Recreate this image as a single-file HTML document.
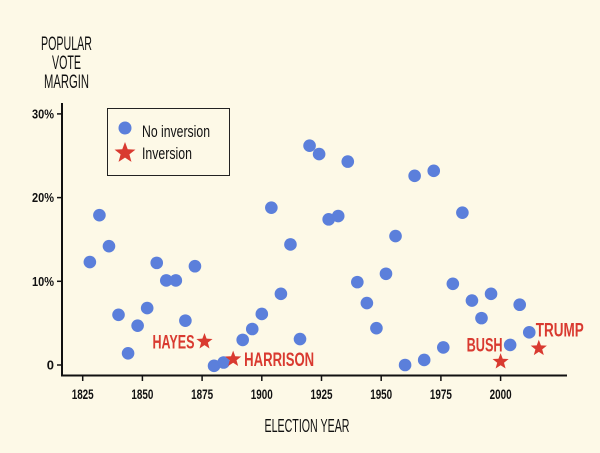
<!DOCTYPE html>
<html><head><meta charset="utf-8"><style>
html,body{margin:0;padding:0;background:#fdf9e7;}
svg{display:block;}
text{font-family:"Liberation Sans Narrow","Liberation Sans",sans-serif;}
</style></head><body>
<svg id="chart" width="600" height="453" viewBox="0 0 600 453">
<rect width="600" height="453" fill="#fdf9e7"/>
<g font-size="19" fill="#111" text-anchor="middle">
<text x="66.5" y="50" textLength="51" lengthAdjust="spacingAndGlyphs">POPULAR</text>
<text x="66.5" y="69" textLength="29" lengthAdjust="spacingAndGlyphs">VOTE</text>
<text x="66.5" y="88" textLength="45" lengthAdjust="spacingAndGlyphs">MARGIN</text>
</g>
<g id="axes"></g>
<g id="marks"></g>
<g>
<rect x="107.5" y="108.5" width="122" height="67" fill="none" stroke="#222" stroke-width="1"/>
<circle cx="125" cy="128" r="6.5" fill="#5b7fdb"/>
<text x="142" y="137" font-size="17" fill="#111" textLength="68" lengthAdjust="spacingAndGlyphs">No inversion</text>
<path id="legstar" fill="#d93a30"/>
<text x="142" y="159" font-size="17" fill="#111" textLength="50" lengthAdjust="spacingAndGlyphs">Inversion</text>
</g>
<text x="307" y="432" font-size="18" fill="#111" text-anchor="middle" textLength="85" lengthAdjust="spacingAndGlyphs">ELECTION YEAR</text>
</svg>
<script>
const years = [1828,1832,1836,1840,1844,1848,1852,1856,1860,1864,1868,1872,1880,1884,1892,1896,1900,1904,1908,1912,1916,1920,1924,1928,1932,1936,1940,1944,1948,1952,1956,1960,1964,1968,1972,1976,1980,1984,1988,1992,1996,2004,2008,2012];
const margins = [12.3,17.9,14.2,6.0,1.4,4.7,6.8,12.2,10.1,10.1,5.3,11.8,-0.1,0.3,3.0,4.3,6.1,18.8,8.5,14.4,3.1,26.2,25.2,17.4,17.8,24.3,9.9,7.4,4.4,10.9,15.4,0.0,22.6,0.6,23.2,2.1,9.7,18.2,7.7,5.6,8.5,2.4,7.2,3.9];
const invYears = [1876,1888,2000,2016];
const invMargins = [2.8,0.7,0.4,2.0];
const invNames = ["HAYES","HARRISON","BUSH","TRUMP"];
const xTicks = [1825,1850,1875,1900,1925,1950,1975,2000];
const yTicks = [0,10,20,30];
const yTickLabels = ["0","10%","20%","30%"];

const NS="http://www.w3.org/2000/svg";
const X = y => 82.7 + (y-1825)*2.388;
const Y = v => 365 - v*8.37;
function mk(tag, attrs, parent){const e=document.createElementNS(NS,tag);for(const k in attrs)e.setAttribute(k,attrs[k]);parent.appendChild(e);return e;}
function star(cx,cy,R){const r=R*0.42;let d="";for(let i=0;i<10;i++){const a=-Math.PI/2+i*Math.PI/5;const rr=i%2?r:R;d+=(i?"L":"M")+(cx+rr*Math.cos(a)).toFixed(2)+","+(cy+rr*Math.sin(a)).toFixed(2);}return d+"Z";}
document.getElementById('legstar').setAttribute('d',star(125,153,11));

const axes=document.getElementById('axes');
const ya=mk('line',{x1:62,y1:103,x2:62,y2:376,stroke:'#111','stroke-width':2},axes);


const xa=mk('line',{x1:61,y1:375.5,x2:567,y2:375.5,stroke:'#111','stroke-width':2},axes);


yTicks.forEach((t,i)=>{
  const l=mk('line',{x1:57,y1:Y(t),x2:62,y2:Y(t),stroke:'#111','stroke-width':1.5},axes);
  
  
  const a={x:54,y:Y(t)+4.5,'font-size':13,'font-weight':'bold','text-anchor':'end',fill:'#111'};
  if(yTickLabels[i].length>2){a.textLength=22;a.lengthAdjust='spacingAndGlyphs';}
  const tx=mk('text',a,axes);
  tx.textContent=yTickLabels[i];
  
  
});
xTicks.forEach(t=>{
  const l=mk('line',{x1:X(t),y1:375,x2:X(t),y2:381,stroke:'#111','stroke-width':1.5},axes);
  
  
  const tx=mk('text',{x:X(t),y:399,'font-size':14,'font-weight':'bold','text-anchor':'middle',fill:'#111',textLength:22,lengthAdjust:'spacingAndGlyphs'},axes);
  tx.textContent=t;
  
  
});
const marks=document.getElementById('marks');
years.forEach((yr,i)=>{
  const c=mk('circle',{cx:X(yr),cy:Y(margins[i]),r:6.3,fill:'#5b7fdb'},marks);
  
  
});
const labelPos=[{dx:-10,dy:7,a:'end',w:42},{dx:11,dy:7,a:'start',w:70},{dx:2,dy:-10,a:'end',w:36},{dx:-3,dy:-12,a:'start',w:48}];
invYears.forEach((yr,i)=>{
  const s=mk('path',{d:star(X(yr),Y(invMargins[i]),8.5),fill:'#d93a30'},marks);
  
  
  const p=labelPos[i];
  const t=mk('text',{x:X(yr)+p.dx,y:Y(invMargins[i])+p.dy,'font-size':19,'font-weight':'bold',fill:'#d93a30','text-anchor':p.a,textLength:p.w,lengthAdjust:'spacingAndGlyphs'},marks);
  t.textContent=invNames[i];
  
  
});
</script>
</body></html>
